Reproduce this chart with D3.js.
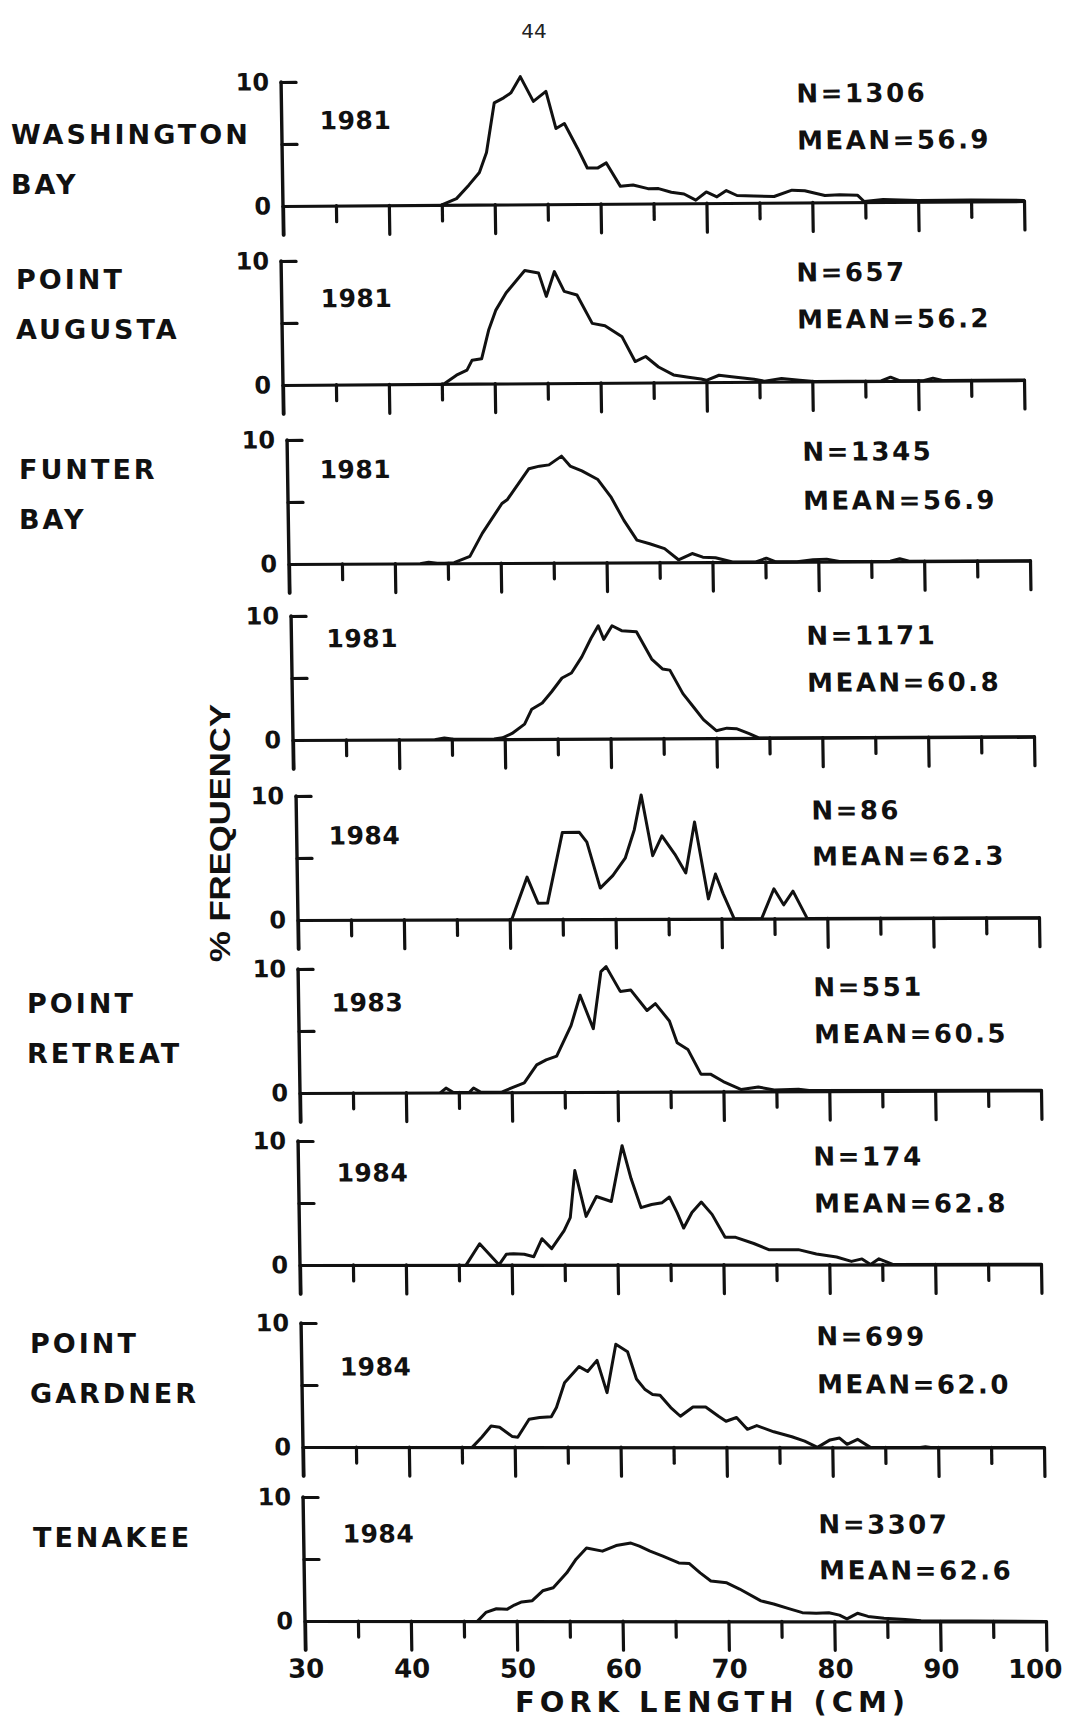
<!DOCTYPE html>
<html><head><meta charset="utf-8">
<script src="https://cdn.jsdelivr.net/npm/d3@7"></script>
<style>html,body{margin:0;padding:0;background:#fff;} svg{display:block;}</style>
</head><body>
<svg id="chart" width="1072" height="1723"></svg>
<script>
// ---------- DATA ----------
const sites = [["WASHINGTON","BAY"],["POINT","AUGUSTA"],["FUNTER","BAY"],[],[],["POINT","RETREAT"],[],["POINT","GARDNER"],["TENAKEE"]];
const years = ["1981","1981","1981","1981","1984","1983","1984","1984","1984"];
const sampleN = ["1306","657","1345","1171","86","551","174","699","3307"];
const meanLen = ["56.9","56.2","56.9","60.8","62.3","60.5","62.8","62.0","62.6"];
const xMajorTicks = [30,40,50,60,70,80,90,100];
const xMinorTicks = [35,45,55,65,75,85,95];
const yTickLabels = [0,10];
const yInnerTicks = [5,10];

const washBayLen = [45.0,46.4,47.6,48.6,49.3,50.1,51.0,51.7,52.6,53.8,55.0,55.9,56.7,57.9,58.8,59.8,60.6,61.9,63.1,64.5,65.5,66.7,67.9,69.0,70.0,71.0,71.9,72.9,74.5,76.4,78.1,79.3,81.2,82.6,84.3,84.9,86.7,90,95,100];
const washBayPct = [0,0.5,1.6,2.6,4.2,8.2,8.6,9.0,10.3,8.3,9.1,6.1,6.5,4.5,2.9,2.9,3.3,1.4,1.5,1.2,1.2,0.9,0.75,0.25,0.9,0.5,1.0,0.6,0.55,0.5,1.0,0.95,0.55,0.6,0.55,0.05,0.2,0.1,0.1,0.05];

const ptAugLen = [45.2,46.4,47.4,47.9,48.8,49.5,50.2,51.2,52.1,53.0,54.3,55.0,55.8,56.7,57.9,59.3,60.5,62.1,63.3,64.3,65.5,66.9,68.3,69.5,70.0,71.2,72.6,74.5,75.5,77.1,78.8,80.2,86.5,87.4,88.3,90.5,91.4,92.3,100];
const ptAugPct = [0,0.7,1.1,1.9,2.0,4.3,5.9,7.3,8.2,9.1,8.9,7.0,9.0,7.4,7.1,4.8,4.6,3.7,1.7,2.1,1.25,0.6,0.4,0.25,0.15,0.55,0.4,0.2,0.05,0.25,0.1,0,0,0.3,0,0,0.2,0,0];

const funterLen = [42.5,43.2,44.0,44.7,45.6,47.1,48.3,50.2,50.7,52.8,53.8,54.7,55.9,56.7,57.8,59.3,60.5,61.7,62.9,64.1,65.5,66.8,68.1,69.1,70.3,71.9,74.1,75.1,76.0,78.0,79.5,80.8,82.0,86.8,87.7,88.6,100];
const funterPct = [0,0.1,0,0,0.05,0.55,2.4,4.8,5.1,7.6,7.8,7.9,8.6,7.8,7.4,6.7,5.3,3.4,1.8,1.5,1.1,0.2,0.7,0.4,0.35,0,0,0.3,0,0,0.15,0.2,0,0,0.2,0,0];

const p4Len = [43.5,44.3,45.2,49.0,49.8,50.7,51.9,52.6,53.6,54.5,55.5,56.4,57.4,58.3,59.0,59.5,60.3,61.2,62.6,64.0,65.0,65.7,66.9,67.9,68.8,70.0,71.0,71.9,73.1,74.0,100];
const p4Pct = [0,0.1,0,0,0.1,0.45,1.2,2.4,2.9,3.8,4.9,5.3,6.6,8.1,9.1,8.0,9.1,8.7,8.6,6.4,5.6,5.5,3.6,2.5,1.5,0.6,0.8,0.75,0.35,0,0];

const p5Len = [50.2,51.7,52.7,53.6,55.1,56.7,57.4,58.6,59.8,61.0,61.9,62.6,63.6,64.5,65.7,66.7,67.6,68.8,69.5,70.2,71.2,73.8,75.0,75.9,76.8,78.1,100];
const p5Pct = [0,3.4,1.3,1.3,7.0,7.0,6.2,2.5,3.5,4.9,7.2,10.0,5.1,6.7,5.2,3.7,7.8,1.6,3.6,2.0,0,0,2.4,1.1,2.2,0,0];

const ptRetLen = [43.3,43.8,44.5,46.0,46.4,47.1,49.0,50.0,51.2,52.4,53.3,54.3,55.7,56.6,57.8,58.6,59.1,60.4,61.4,62.9,63.7,65.0,65.7,66.7,67.9,68.8,70.0,71.7,73.3,74.8,77.1,78.1,100];
const ptRetPct = [0,0.35,0,0,0.35,0,0,0.35,0.75,2.2,2.6,2.9,5.35,7.8,5.1,9.7,10.1,8.1,8.2,6.55,7.1,5.7,3.95,3.4,1.4,1.4,0.8,0.15,0.35,0.1,0.15,0.05,0];

const p7Len = [45.7,47.0,48.8,49.5,50.2,51.2,52.1,52.9,53.8,55.0,55.6,56.1,57.1,58.1,59.5,60.6,61.4,62.3,63.3,64.3,65.0,65.7,66.3,67.1,68.0,69.0,70.2,71.2,72.9,74.3,75.7,77.1,78.8,80.7,82.1,83.1,83.9,84.7,86.0,100];
const p7Pct = [0,1.7,0,0.85,0.9,0.85,0.65,2.1,1.3,2.75,3.8,7.6,3.9,5.5,5.1,9.6,6.95,4.6,4.85,5.0,5.45,4.2,2.95,4.2,5.05,4.05,2.2,2.2,1.7,1.2,1.2,1.2,0.85,0.6,0.25,0.45,0,0.45,0,0];

const ptGarLen = [46.0,46.9,47.8,48.6,49.8,50.3,51.4,52.4,53.5,54.0,54.8,56.2,57.0,57.9,58.8,59.7,60.8,61.6,62.4,63.1,63.8,64.8,65.7,66.9,68.1,69.3,70.0,71.0,72.0,72.9,74.5,76.2,77.4,78.6,79.8,80.7,81.4,82.4,83.6,88.3,88.8,89.3,100];
const ptGarPct = [0,0.8,1.7,1.6,0.85,0.8,2.25,2.4,2.45,3.2,5.2,6.5,6.1,7.0,4.4,8.3,7.7,5.5,4.65,4.25,4.2,3.2,2.5,3.25,3.25,2.5,2.1,2.4,1.45,1.75,1.25,0.85,0.5,0,0.6,0.75,0.25,0.65,0,0,0.05,0,0];

const tenakeeLen = [46.3,47.1,48.1,49.1,49.8,50.5,51.5,52.5,53.5,54.8,55.7,56.7,58.2,59.5,60.9,61.7,62.7,63.9,65.4,66.4,67.4,68.4,69.9,71.1,73.1,74.3,75.8,77.0,78.3,79.5,80.5,81.2,82.2,83.2,84.7,86.7,88.2,100];
const tenakeePct = [0,0.7,1.0,0.95,1.3,1.55,1.65,2.45,2.7,3.9,5.0,5.9,5.65,6.1,6.3,6.05,5.65,5.25,4.7,4.65,3.9,3.25,3.1,2.6,1.65,1.4,1.0,0.7,0.65,0.7,0.5,0.2,0.65,0.4,0.25,0.15,0.05,0];

const seriesLen = [washBayLen, ptAugLen, funterLen, p4Len, p5Len, ptRetLen, p7Len, ptGarLen, tenakeeLen];
const seriesPct = [washBayPct, ptAugPct, funterPct, p4Pct, p5Pct, ptRetPct, p7Pct, ptGarPct, tenakeePct];

// ---------- LAYOUT (scan geometry) ----------
const panelX0   = [283, 283, 289, 293, 298, 300, 300, 303, 305];
const panelY0   = [206, 385, 564, 740, 920, 1093, 1265, 1447, 1621];
const panelTilt = [-5, -5, -3.3, -3.3, -2.3, -2.7, -0.7, 0.5, 0.5];
const yearDx    = [38, 39, 32, 35, 32, 33, 38, 38, 39];
const yearUp    = [85, 86, 94, 101, 84, 90, 92, 80, 87];
const nUp       = [109, 109, 110, 102, 108, 104, 108, 111, 97];
const meanUp    = [62, 62, 61, 55, 62, 57, 61, 63, 51];
const siteX     = [11, 16, 19, 0, 0, 27, 0, 30, 33];
const siteY     = [144, 289, 479, 0, 0, 1013, 0, 1353, 1547];
const shear = 0.0155, plotW = 741, plotH = 124;

const ink = "#111";
const FONT = "'DejaVu Sans', 'Liberation Sans', sans-serif";
const svg = d3.select("#chart");
svg.append("rect").attr("width",1072).attr("height",1723).attr("fill","#fff");

const x = d3.scaleLinear().domain([30,100]).range([0,plotW]);
const y = d3.scaleLinear().domain([0,10]).range([0,-plotH]);
const line = d3.line().x(d=>x(d[0])).y(d=>y(d[1]));

function styleAxis(g){
  g.selectAll("path,line").attr("stroke",ink).attr("stroke-width",3.2).attr("stroke-linecap","round");
  g.selectAll("text").attr("fill",ink).attr("font-family",FONT).attr("font-weight","bold");
}

seriesLen.forEach((len,i)=>{
  const g = svg.append("g")
    .attr("transform",`matrix(1,${panelTilt[i]/plotW},${shear},1,${panelX0[i]},${panelY0[i]})`);

  // x axis major ticks + baseline
  const xa = g.append("g").call(
    d3.axisBottom(x).tickValues(xMajorTicks).tickSize(29).tickSizeOuter(0)
      .tickPadding(9).tickFormat(i===seriesLen.length-1 ? d3.format("d") : ""));
  styleAxis(xa);
  xa.selectAll("text").attr("font-size",26)
    .attr("dx", d => d===100 ? -12 : 0);
  // minor ticks
  const xm = g.append("g").call(d3.axisBottom(x).tickValues(xMinorTicks).tickSize(16).tickFormat(""));
  xm.select(".domain").remove();
  styleAxis(xm);

  // y axis line (extends below the baseline like a tick)
  g.append("line").attr("x1",0).attr("x2",0).attr("y1",y(10)).attr("y2",29)
    .attr("stroke",ink).attr("stroke-width",3.4).attr("stroke-linecap","round");
  const yr = g.append("g").call(d3.axisRight(y).tickValues(yInnerTicks).tickSize(15).tickFormat(""));
  yr.select(".domain").remove();
  styleAxis(yr);
  const yl = g.append("g").call(d3.axisLeft(y).tickValues(yTickLabels).tickSize(0).tickPadding(12));
  yl.select(".domain").remove();
  styleAxis(yl);
  yl.selectAll("text").attr("font-size",24);

  // curve
  g.append("path").datum(d3.zip(len, seriesPct[i]))
    .attr("d",line).attr("fill","none").attr("stroke",ink)
    .attr("stroke-width",3).attr("stroke-linejoin","round").attr("stroke-linecap","round");

  // texts
  g.append("text").attr("x",yearDx[i]).attr("y",-yearUp[i]).attr("dominant-baseline","central")
    .attr("font-family",FONT).attr("font-weight","bold").attr("font-size",25)
    .attr("letter-spacing",0.5).attr("fill",ink).text(years[i]);
  g.append("text").attr("x",515).attr("y",-nUp[i]).attr("dominant-baseline","central")
    .attr("font-family",FONT).attr("font-weight","bold").attr("font-size",26)
    .attr("letter-spacing",2.5).attr("fill",ink).text("N=" + sampleN[i]);
  g.append("text").attr("x",515).attr("y",-meanUp[i]).attr("dominant-baseline","central")
    .attr("font-family",FONT).attr("font-weight","bold").attr("font-size",26)
    .attr("letter-spacing",2.5).attr("fill",ink).text("MEAN=" + meanLen[i]);

  // site labels
  sites[i].forEach((s,k)=>{
    svg.append("text").attr("x",siteX[i]).attr("y",siteY[i] + k*49.5)
      .attr("font-family",FONT).attr("font-weight","bold").attr("font-size",27)
      .attr("letter-spacing",3).attr("fill",ink).text(s);
  });
});

// y title
svg.append("text").attr("transform","translate(219,833) rotate(-90)")
  .attr("text-anchor","middle").attr("dominant-baseline","central")
  .attr("font-family","'Liberation Sans', sans-serif").attr("font-weight","bold").attr("font-size",30)
  .attr("textLength",258).attr("lengthAdjust","spacingAndGlyphs").attr("fill",ink).text("% FREQUENCY");

// x title
svg.append("text").attr("x",710).attr("y",1712).attr("text-anchor","middle")
  .attr("font-family",FONT).attr("font-weight","bold").attr("font-size",29)
  .attr("textLength",390).attr("lengthAdjust","spacing").attr("fill",ink).text("FORK LENGTH (CM)");

// page number
svg.append("text").attr("x",534).attr("y",38).attr("text-anchor","middle")
  .attr("font-family",FONT).attr("font-size",20).attr("fill","#222").text("44");
</script>
</body></html>
